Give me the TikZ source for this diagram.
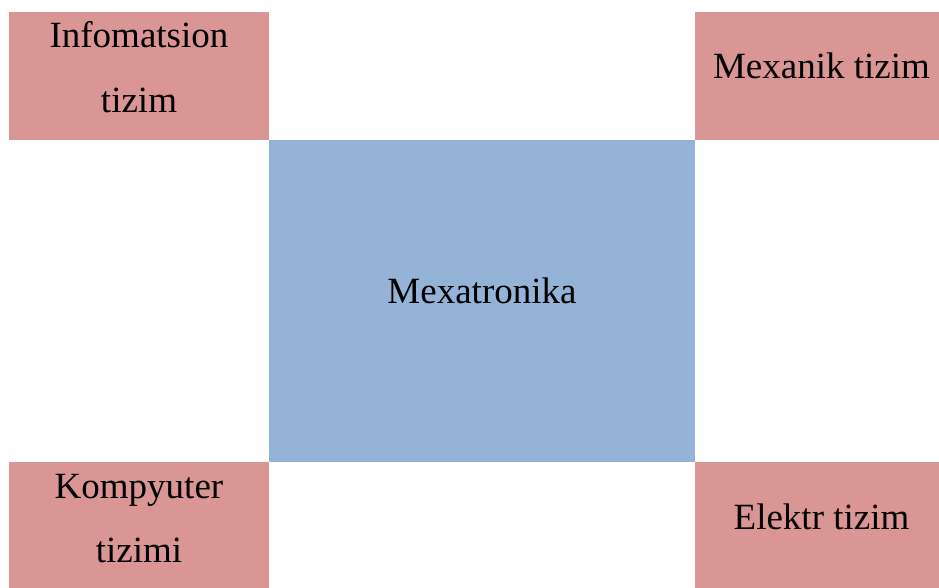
\documentclass[tikz,border=0pt]{standalone}
\usepackage{fontspec}
\setmainfont{Liberation Serif}
\definecolor{pinkbox}{HTML}{D99694}
\definecolor{bluebox}{HTML}{95B3D7}
\begin{document}
\begin{tikzpicture}[x=1pt,y=-1pt,
  box/.style={draw=none, inner sep=0pt, outer sep=0pt, anchor=north west},
  lbl/.style={anchor=base, inner sep=0pt, font=\fontsize{37}{44}\selectfont}]
\useasboundingbox (0,0) rectangle (939,587);
\clip (0,0) rectangle (939,587);
\node[box, fill=pinkbox, minimum width=260pt, minimum height=128pt] (info) at (9,12) {};
\node[box, fill=pinkbox, minimum width=253pt, minimum height=128pt] (mex) at (695,12) {};
\node[box, fill=bluebox, minimum width=426pt, minimum height=322pt] (center) at (269,140) {};
\node[box, fill=pinkbox, minimum width=260pt, minimum height=130pt] (komp) at (9,462) {};
\node[box, fill=pinkbox, minimum width=253pt, minimum height=130pt] (elek) at (695,462) {};
\node[lbl] (t1a) at (139,47) {Infomatsion};
\node[lbl] (t1b) at (139,112) {tizim};
\node[lbl] (t2) at (821.5,78) {Mexanik tizim};
\node[lbl] (t3) at (482,303) {Mexatronika};
\node[lbl] (t4a) at (139,498) {Kompyuter};
\node[lbl] (t4b) at (139,562) {tizimi};
\node[lbl] (t5) at (821.5,529) {Elektr tizim};
\end{tikzpicture}
\end{document}
